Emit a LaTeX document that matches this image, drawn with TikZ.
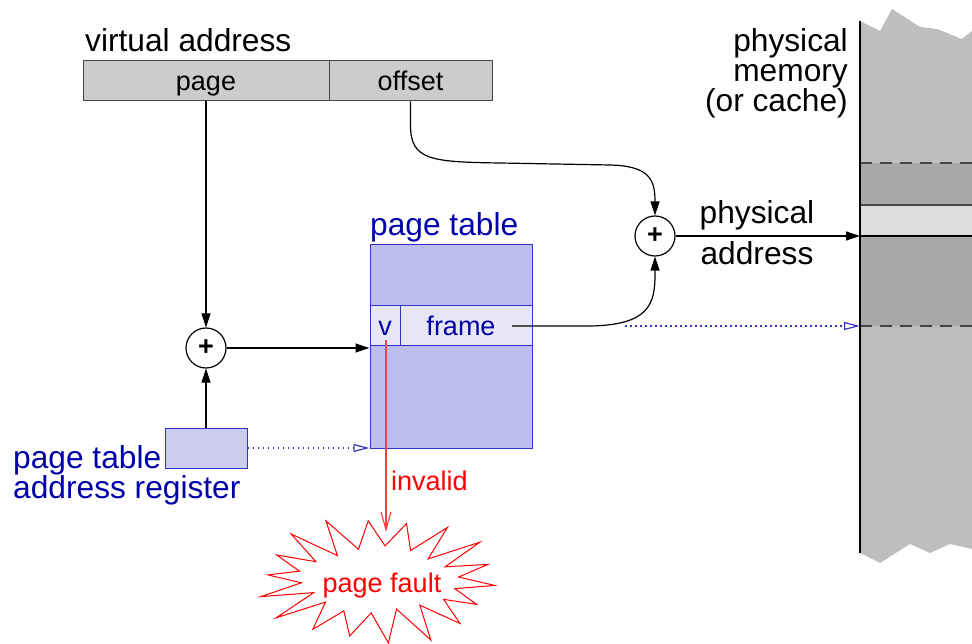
\documentclass[tikz,border=0pt]{standalone}
\usepackage{fontspec}
\setmainfont{Liberation Sans}
\usetikzlibrary{arrows.meta}
\definecolor{vgray}{RGB}{204,204,204}
\definecolor{bordergray}{RGB}{70,70,70}
\definecolor{memgray}{RGB}{190,190,190}
\definecolor{memdark}{RGB}{168,168,168}
\definecolor{memlight}{RGB}{220,220,220}
\definecolor{ptfill}{RGB}{190,190,236}
\definecolor{rowfill}{RGB}{230,230,246}
\definecolor{regfill}{RGB}{204,204,238}
\definecolor{ptborder}{RGB}{50,50,200}
\definecolor{txtblue}{RGB}{0,0,170}
\begin{document}
\begin{tikzpicture}[x=1pt,y=-1pt,
  big/.style={font=\fontsize{31.7}{30}\selectfont, inner sep=0pt},
  small/.style={font=\fontsize{27}{30}\selectfont, inner sep=0pt},
  fieldbox/.style={draw=bordergray, fill=vgray, line width=1pt, inner sep=0pt,
    minimum height=40pt, text height=20pt, text depth=0pt, font=\fontsize{27}{30}\selectfont},
  ptcell/.style={draw=ptborder, fill=rowfill, line width=1pt, inner sep=0pt,
    minimum height=40pt, text height=20pt, text depth=0pt, text=txtblue, font=\fontsize{27}{30}\selectfont},
  arr/.style={-{Triangle[length=14pt,width=9pt]}, line width=1.2pt},
  dotarr/.style={-{Triangle[open,length=16pt,width=8pt]}, ptborder, line width=1.2pt, dash pattern=on 1.5pt off 3.5pt},
  adder/.style={circle, draw, line width=1.2pt, minimum size=40pt, inner sep=0pt, font=\fontsize{27}{30}\selectfont\bfseries},
  memline/.style={bordergray, line width=1.2pt}
]
\useasboundingbox (0,0) rectangle (972,644);

% physical memory
\fill[memgray] (860,21) -- (880,31) -- (892,9) -- (920,27) -- (937,29) -- (962,39) -- (972,31)
  -- (972,549) -- (950,544) -- (930,553) -- (910,544) -- (880,563) -- (860,553) -- cycle;
\fill[memdark] (860,163) rectangle (972,326);
\fill[memlight] (860,205) rectangle (972,236);
\draw[memline, dash pattern=on 12pt off 8pt] (860,163) -- (972,163);
\draw[memline, dash pattern=on 12pt off 8pt] (860,326) -- (972,326);
\draw[memline] (860,205) -- (972,205);
\draw[line width=1.2pt] (860,236) -- (972,236);
\draw[line width=1.4pt] (860,21) -- (860,553);
\coordinate (memL) at (860,300);
\node[big, align=right, anchor=base east] (memlbl) at (848,112) {physical\\memory\\(or cache)};

% virtual address
\node[big, anchor=base west] (valbl) at (85,52) {virtual address};
\node[fieldbox, minimum width=246pt] (page) at (206,81) {page};
\node[fieldbox, minimum width=163pt] (offset) at (410.5,81) {offset};

% adders
\node[adder] (c1) at (206,348) {+};
\node[adder] (c2) at (655,236) {+};

% page table
\node[big, anchor=base west, text=txtblue] (ptlbl) at (370,236) {page table};
\node[draw=ptborder, fill=ptfill, line width=1pt, minimum width=162pt, minimum height=203pt, inner sep=0pt] (ptab) at (451,346.5) {};
\node[ptcell, minimum width=30pt] (v) at (385,326) {v};
\node[ptcell, minimum width=132pt] (row) at (466,326) {};
\node[small, text=txtblue, text height=20pt, text depth=0pt] (frame) at (461,326) {frame};

% register
\node[draw=ptborder, fill=regfill, line width=1pt, minimum width=82pt, minimum height=40pt, inner sep=0pt] (reg) at (206,448) {};
\node[big, anchor=base west, align=left, text=txtblue] (reglbl) at (13,498) {page table\\address register};

% connectors
\draw[arr] (page.south) -- (c1.north);
\draw[arr] (reg.north) -- (c1.south);
\draw[arr] (c1.east) -- (c1.east -| ptab.west);
\draw[dotarr] (reg.east) -- (reg.east -| ptab.west);
\draw[arr] (offset.south) -- (410.5,125) .. controls (410.5,160) and (430,162) .. (500,163)
  -- (610,165) .. controls (650,166) and (655,180) .. (c2.north);
\coordinate (fstart) at (512,326);
\draw[arr] (fstart) -- (590,326) .. controls (648,325) and (655,305) .. (655,275) -- (c2.south);
\coordinate (dstart) at (625,326);
\draw[dotarr] (dstart) -- (dstart -| memL);
\draw[arr] (c2.east) -- (c2.east -| memL);
\node[big, anchor=base] (phys1) at (757,224) {physical};
\node[big, anchor=base] (phys2) at (757,265) {address};

% page fault
\draw[red, line width=1pt, fill=white] plot[samples at={0,...,35}, variable=\k]
  ({378+(mod(\k,2)==0?117:76)*(1+0.07*sin(\k*137))*cos(\k*10+5)},
   {580+(mod(\k,2)==0?62:32)*(1+0.07*sin(\k*137))*sin(\k*10+5)}) -- cycle;
\node[small, anchor=base, text=red] (pf) at (382,592) {page fault};
\coordinate (vstart) at (386,340);
\coordinate (pftop) at (386,532);
\draw[red!75!white, line width=1.2pt, -{Straight Barb[length=18pt,width=10pt]}] (vstart) -- (pftop);
\node[small, anchor=base west, text=red] (inv) at (391,490) {invalid};
\end{tikzpicture}
\end{document}
